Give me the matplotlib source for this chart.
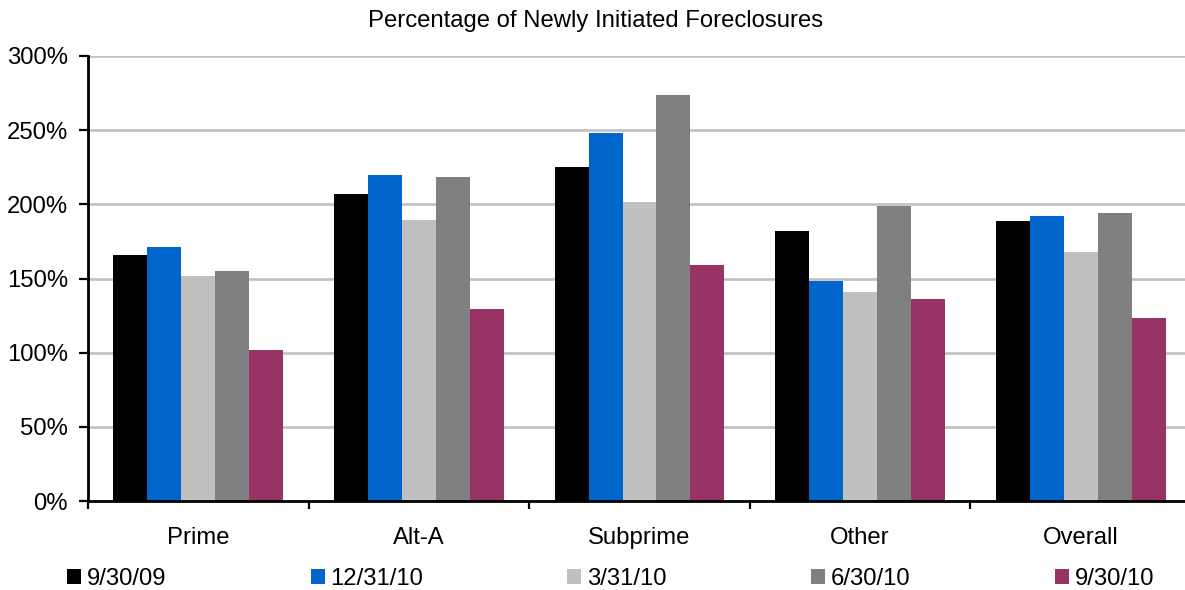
import matplotlib
matplotlib.use("Agg")
import matplotlib.pyplot as plt
from matplotlib.patches import Rectangle
import numpy as np

plt.rcParams['font.family'] = ['Liberation Sans', 'DejaVu Sans']

categories = ["Prime", "Alt-A", "Subprime", "Other", "Overall"]
series_names = ["9/30/09", "12/31/10", "3/31/10", "6/30/10", "9/30/10"]
s_093009 = [166, 207, 225, 182, 189]
s_123110 = [171, 220, 248, 148, 192]
s_033110 = [152, 189.5, 201.5, 141, 168]
s_063010 = [155, 218.5, 274, 199, 194]
s_093010 = [102, 129.5, 159, 136, 123.5]
series_values = [s_093009, s_123110, s_033110, s_063010, s_093010]
colors = ["#000000", "#0066CC", "#C0C0C0", "#808080", "#993366"]
yticks = [0, 50, 100, 150, 200, 250, 300]
ytick_labels = ["0%", "50%", "100%", "150%", "200%", "250%", "300%"]

W, H = 1185, 590
fig = plt.figure(figsize=(W / 100, H / 100), dpi=100)
ax = fig.add_axes([88 / W, 89 / H, 1103 / W, 445 / H])

x = np.arange(len(categories))
bw = 0.154
for i, (vals, c) in enumerate(zip(series_values, colors)):
    ax.bar(x + (i - 2) * bw, vals, width=bw, color=c, linewidth=0, zorder=3)

ax.set_xlim(-0.5, len(categories) - 0.5)
ax.set_ylim(0, 300)
ax.set_yticks(yticks)
ax.set_yticklabels(ytick_labels)
ax.yaxis.grid(True, color="#C0C0C0", linewidth=1.9, zorder=0)
ax.set_axisbelow(True)

fs = 17.2
ax.set_xticks(x)
ax.set_xticklabels(categories)
ax.set_xticks(np.arange(-0.5, len(categories) + 0.5, 1), minor=True)
ax.tick_params(axis='x', which='major', length=0, pad=19, labelsize=fs)
ax.tick_params(axis='x', which='minor', length=5.5, width=1.6, direction='out', color='black')
ax.tick_params(axis='y', length=6.5, width=1.6, direction='out', pad=8, labelsize=fs, color='black')

for s in ['top', 'right']:
    ax.spines[s].set_visible(False)
for s in ['left', 'bottom']:
    ax.spines[s].set_linewidth(2)
    ax.spines[s].set_color('black')
ax.spines['bottom'].set_zorder(5)

fig.text(0.5025, 1 - 21 / H, "Percentage of Newly Initiated Foreclosures",
         ha='center', va='center', fontsize=fs)

fspx = fs * 100 / 72
handles = [Rectangle((0, 0), 1, 1, facecolor=c, edgecolor='none') for c in colors]
fig.legend(handles, series_names, loc='center left',
           bbox_to_anchor=(67 / W, 1 - 579 / H), ncol=5, frameon=False,
           fontsize=fs, handlelength=14 / fspx, handleheight=14 / fspx,
           handletextpad=6 / fspx, columnspacing=144 / fspx,
           borderpad=0, borderaxespad=0)

fig.savefig("out.png", dpi=100)
